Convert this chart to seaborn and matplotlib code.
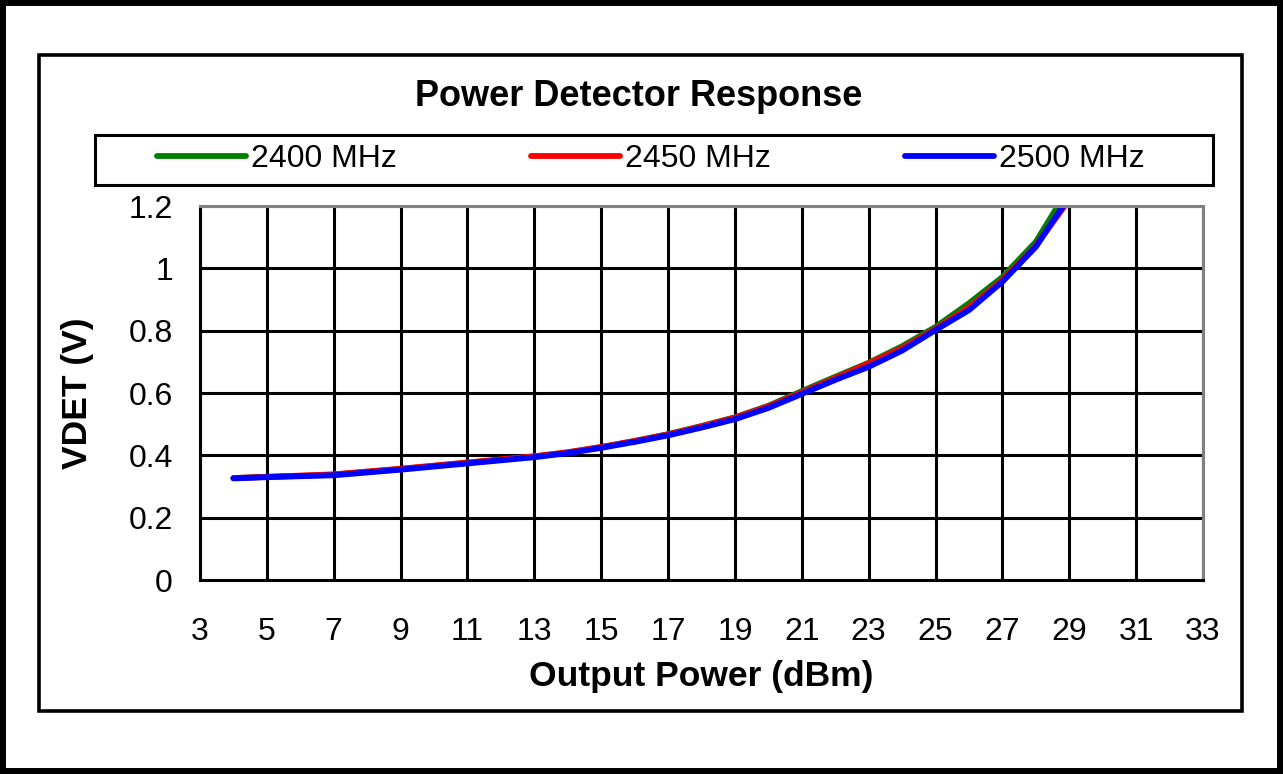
import pandas as pd
import numpy as np
import matplotlib
matplotlib.use("Agg")
import matplotlib.pyplot as plt
from matplotlib.patches import Rectangle
import seaborn as sns

# ==================== data ====================
POWER_DBM = [4, 5, 6, 7, 8, 9, 10, 11, 12, 13, 14, 15, 16, 17, 18, 19, 20,
             21, 22, 23, 24, 25, 26, 27, 28, 29]
VDET_2400 = [0.327, 0.331, 0.334, 0.338, 0.347, 0.356, 0.366, 0.376, 0.386, 0.396,
             0.409, 0.426, 0.446, 0.468, 0.494, 0.522, 0.559, 0.606, 0.652, 0.697,
             0.750, 0.812, 0.888, 0.972, 1.085, 1.26]
VDET_2450 = [0.327, 0.331, 0.335, 0.339, 0.348, 0.357, 0.367, 0.377, 0.387, 0.397,
             0.410, 0.427, 0.446, 0.467, 0.493, 0.521, 0.557, 0.602, 0.648, 0.695,
             0.744, 0.806, 0.875, 0.962, 1.073, 1.22]
VDET_2500 = [0.326, 0.330, 0.333, 0.336, 0.345, 0.354, 0.364, 0.374, 0.384, 0.394,
             0.407, 0.424, 0.443, 0.464, 0.489, 0.516, 0.552, 0.597, 0.642, 0.684,
             0.736, 0.802, 0.866, 0.957, 1.069, 1.23]
SERIES = ["2400 MHz", "2450 MHz", "2500 MHz"]
COLORS = {"2400 MHz": "#008000", "2450 MHz": "#ff0000", "2500 MHz": "#0000ff"}
X_TICKS = list(range(3, 34, 2))
Y_TICKS = [0, 0.2, 0.4, 0.6, 0.8, 1, 1.2]
Y_TICK_LABELS = ["0", "0.2", "0.4", "0.6", "0.8", "1", "1.2"]

# ==================== style ====================
sns.set_style("white")
plt.rcParams["font.family"] = ["Liberation Sans", "DejaVu Sans"]
plt.rcParams["axes.unicode_minus"] = False
plt.rcParams["text.color"] = "black"
plt.rcParams["axes.labelcolor"] = "black"
plt.rcParams["xtick.color"] = "black"
plt.rcParams["ytick.color"] = "black"

W, H = 1283, 774
LW = 2.2  # ~3 px

df = pd.concat([
    pd.DataFrame({"power": POWER_DBM, "vdet": v, "freq": s})
    for s, v in zip(SERIES, [VDET_2400, VDET_2450, VDET_2500])
], ignore_index=True)

fig = plt.figure(figsize=(W / 100, H / 100), dpi=100)
fig.patch.set_facecolor("white")
ax = fig.add_axes([200 / W, 1 - 580 / H, 1003 / W, 374 / H])

sns.lineplot(data=df, x="power", y="vdet", hue="freq", hue_order=SERIES,
             palette=COLORS, linewidth=4.2, ax=ax, legend=True)

ax.set_xlim(3, 33)
ax.set_ylim(0, 1.2)
ax.set_xticks(X_TICKS)
ax.set_yticks(Y_TICKS)
ax.set_yticklabels(Y_TICK_LABELS)
ax.grid(True, color="black", linewidth=LW)
ax.set_axisbelow(True)
ax.tick_params(axis="both", direction="out", length=6.5, width=LW, color="black",
               labelsize=23, labelcolor="black")
ax.tick_params(axis="x", pad=20)
ax.tick_params(axis="y", pad=13)

for side in ["left", "bottom"]:
    ax.spines[side].set_color("black")
    ax.spines[side].set_linewidth(LW)
for side in ["top", "right"]:
    ax.spines[side].set_color("#808080")
    ax.spines[side].set_linewidth(LW)
    ax.spines[side].set_visible(True)

ax.set_xlabel("Output Power (dBm)", fontsize=25.5, fontweight="bold")
ax.set_ylabel("VDET (V)", fontsize=25.5, fontweight="bold")
ax.xaxis.set_label_coords(0.5, -0.215)
ax.yaxis.set_label_coords(-0.106, 0.5)

# legend in its own box above the plot
handles, labels = ax.get_legend_handles_labels()
ax.get_legend().remove()
leg = fig.legend(handles, labels, loc="center", ncol=3, mode="expand",
                 bbox_to_anchor=(157 / W, 1 - 184 / H, (1145 - 157) / W, 50 / H),
                 frameon=False, borderpad=0, borderaxespad=0,
                 handlelength=2.8, handletextpad=0.15, fontsize=23)
for line in leg.get_lines():
    line.set_linewidth(4.2)
fig.add_artist(Rectangle((95 / W, 1 - 185 / H), (1213 - 95) / W, 50 / H,
                         transform=fig.transFigure, fill=False, lw=LW, ec="black"))

fig.text(638.5 / W, 1 - 97 / H, "Power Detector Response", ha="center", va="center",
         fontsize=26, fontweight="bold")

# chart frame and outer border
fig.add_artist(Rectangle((39 / W, 1 - 711 / H), (1242 - 39) / W, (711 - 55) / H,
                         transform=fig.transFigure, fill=False, lw=2.6, ec="black"))
fig.add_artist(Rectangle((0, 0), 1, 1, transform=fig.transFigure, fill=False,
                         lw=8.6, ec="black"))

fig.savefig("out.png", dpi=100)
plt.close(fig)
